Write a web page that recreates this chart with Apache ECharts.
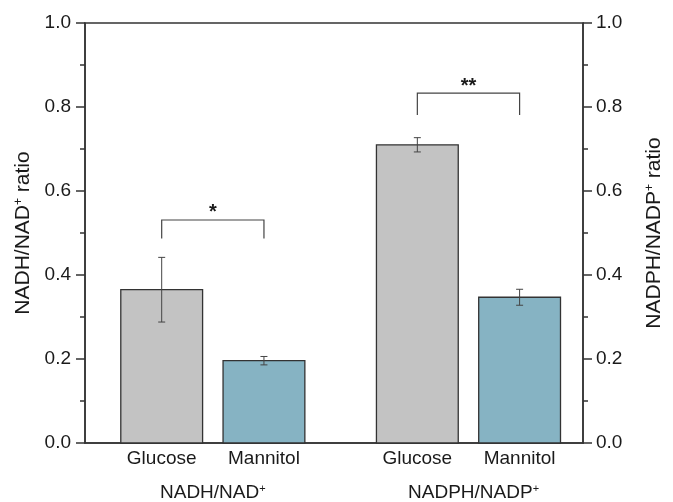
<!DOCTYPE html>
<html>
<head>
<meta charset="utf-8">
<script src="https://cdn.jsdelivr.net/npm/echarts@6/dist/echarts.min.js"></script>
<style>
  html, body { margin: 0; padding: 0; background: #fff; }
  #chart { width: 673px; height: 502px; }
</style>
</head>
<body>
<div id="chart"></div>
<script>
// bars: two conditions per ratio group
const categories = ["Glucose", "Mannitol", "Glucose", "Mannitol"];
const barPositions = [1, 2, 3.5, 4.5];
const ratioValues = [0.365, 0.196, 0.710, 0.347];
const errorValues = [0.077, 0.010, 0.017, 0.019];

const groupLabels = ["NADH/NAD{sup|+}", "NADPH/NADP{sup|+}"];
const groupPositions = [1.5, 4.05];

// significance brackets (bar index pairs)
const sigPairs = [[0, 1], [2, 3]];
const sigLevels = [0.531, 0.833];
const sigLegs = [0.487, 0.781];
const sigMarks = ["*", "**"];

const FONT = "Liberation Sans, Arial, sans-serif";
const INK = "#1a1a1a";
const AXIS = "#333333";
const barColors = ["#c3c3c3", "#86b3c3"];
const X_MIN = 0.25, X_MAX = 5.12;

const chart = echarts.init(document.getElementById("chart"));

const yAxisBase = {
  type: "value",
  min: 0,
  max: 1,
  interval: 0.2,
  nameLocation: "middle",
  nameTextStyle: {
    fontFamily: FONT, fontSize: 21, color: INK,
    rich: { sup: { fontFamily: FONT, fontSize: 12, color: INK, verticalAlign: "top" } }
  },
  axisLine: { show: true, lineStyle: { color: AXIS, width: 1.5 } },
  axisTick: { show: true, length: 9, lineStyle: { color: AXIS, width: 1.5 } },
  minorTick: { show: true, splitNumber: 2, length: 5, lineStyle: { color: AXIS, width: 1.5 } },
  splitLine: { show: false },
  axisLabel: {
    fontFamily: FONT, fontSize: 19, color: INK,
    formatter: (v) => v.toFixed(1)
  }
};

chart.setOption({
  animation: false,
  backgroundColor: "#fff",
  grid: {
    left: 85, right: 76, top: 23, bottom: 59,
    show: true, borderColor: AXIS, borderWidth: 1.5, backgroundColor: "transparent"
  },
  xAxis: [
    {
      type: "value",
      min: X_MIN,
      max: X_MAX,
      position: "bottom",
      axisLine: { show: true, onZero: false, lineStyle: { color: AXIS, width: 1.5 } },
      axisTick: { show: false },
      splitLine: { show: false },
      axisLabel: {
        customValues: barPositions,
        margin: 6,
        fontFamily: FONT, fontSize: 19, color: INK,
        formatter: (v) => categories[barPositions.indexOf(v)]
      }
    },
    {
      type: "value",
      min: X_MIN,
      max: X_MAX,
      position: "bottom",
      offset: 34,
      axisLine: { show: false },
      axisTick: { show: false },
      splitLine: { show: false },
      axisLabel: {
        customValues: groupPositions,
        margin: 6,
        fontFamily: FONT, fontSize: 19, color: INK,
        formatter: (v) => groupLabels[groupPositions.indexOf(v)],
        rich: { sup: { fontFamily: FONT, fontSize: 11, color: INK, verticalAlign: "top" } }
      }
    }
  ],
  yAxis: [
    Object.assign({}, yAxisBase, {
      position: "left",
      name: "NADH/NAD{sup|+} ratio",
      nameGap: 49,
      axisLabel: Object.assign({}, yAxisBase.axisLabel, { margin: 14 })
    }),
    Object.assign({}, yAxisBase, {
      position: "right",
      name: "NADPH/NADP{sup|+} ratio",
      nameGap: 61,
      axisLabel: Object.assign({}, yAxisBase.axisLabel, { margin: 13 })
    })
  ],
  series: [
    {
      type: "custom",
      name: "bars",
      data: barPositions.map((x, i) => [x, ratioValues[i]]),
      renderItem: (params, api) => {
        const x = api.value(0);
        const v = api.value(1);
        const tl = api.coord([x - 0.4, v]);
        const br = api.coord([x + 0.4, 0]);
        return {
          type: "rect",
          shape: { x: tl[0], y: tl[1], width: br[0] - tl[0], height: br[1] - tl[1] },
          style: { fill: barColors[params.dataIndex % 2], stroke: "#333", lineWidth: 1.3 }
        };
      },
      z: 2
    },
    {
      type: "custom",
      name: "errors",
      data: barPositions.map((x, i) => [x, ratioValues[i] - errorValues[i], ratioValues[i] + errorValues[i]]),
      renderItem: (params, api) => {
        const lo = api.coord([api.value(0), api.value(1)]);
        const hi = api.coord([api.value(0), api.value(2)]);
        const cap = 3.5;
        const style = { stroke: "#444", lineWidth: 1 };
        return {
          type: "group",
          children: [
            { type: "line", shape: { x1: lo[0], y1: lo[1], x2: hi[0], y2: hi[1] }, style },
            { type: "line", shape: { x1: lo[0] - cap, y1: lo[1], x2: lo[0] + cap, y2: lo[1] }, style },
            { type: "line", shape: { x1: hi[0] - cap, y1: hi[1], x2: hi[0] + cap, y2: hi[1] }, style }
          ]
        };
      },
      z: 3
    },
    {
      type: "custom",
      name: "significance",
      data: sigPairs.map((p, i) => [barPositions[p[0]], barPositions[p[1]], sigLevels[i], sigLegs[i]]),
      renderItem: (params, api) => {
        const a = api.coord([api.value(0), api.value(2)]);
        const b = api.coord([api.value(1), api.value(2)]);
        const legY = api.coord([api.value(0), api.value(3)])[1];
        return {
          type: "group",
          children: [
            {
              type: "polyline",
              shape: { points: [[a[0], legY], a, b, [b[0], legY]] },
              style: { stroke: "#444", lineWidth: 1.2, fill: null }
            },
            {
              type: "text",
              style: {
                x: (a[0] + b[0]) / 2, y: a[1] - 7,
                text: sigMarks[params.dataIndex],
                fontFamily: FONT, fontSize: 20, fontWeight: "bold", fill: INK,
                align: "center", verticalAlign: "middle"
              }
            }
          ]
        };
      },
      z: 3
    }
  ]
});
</script>
</body>
</html>
